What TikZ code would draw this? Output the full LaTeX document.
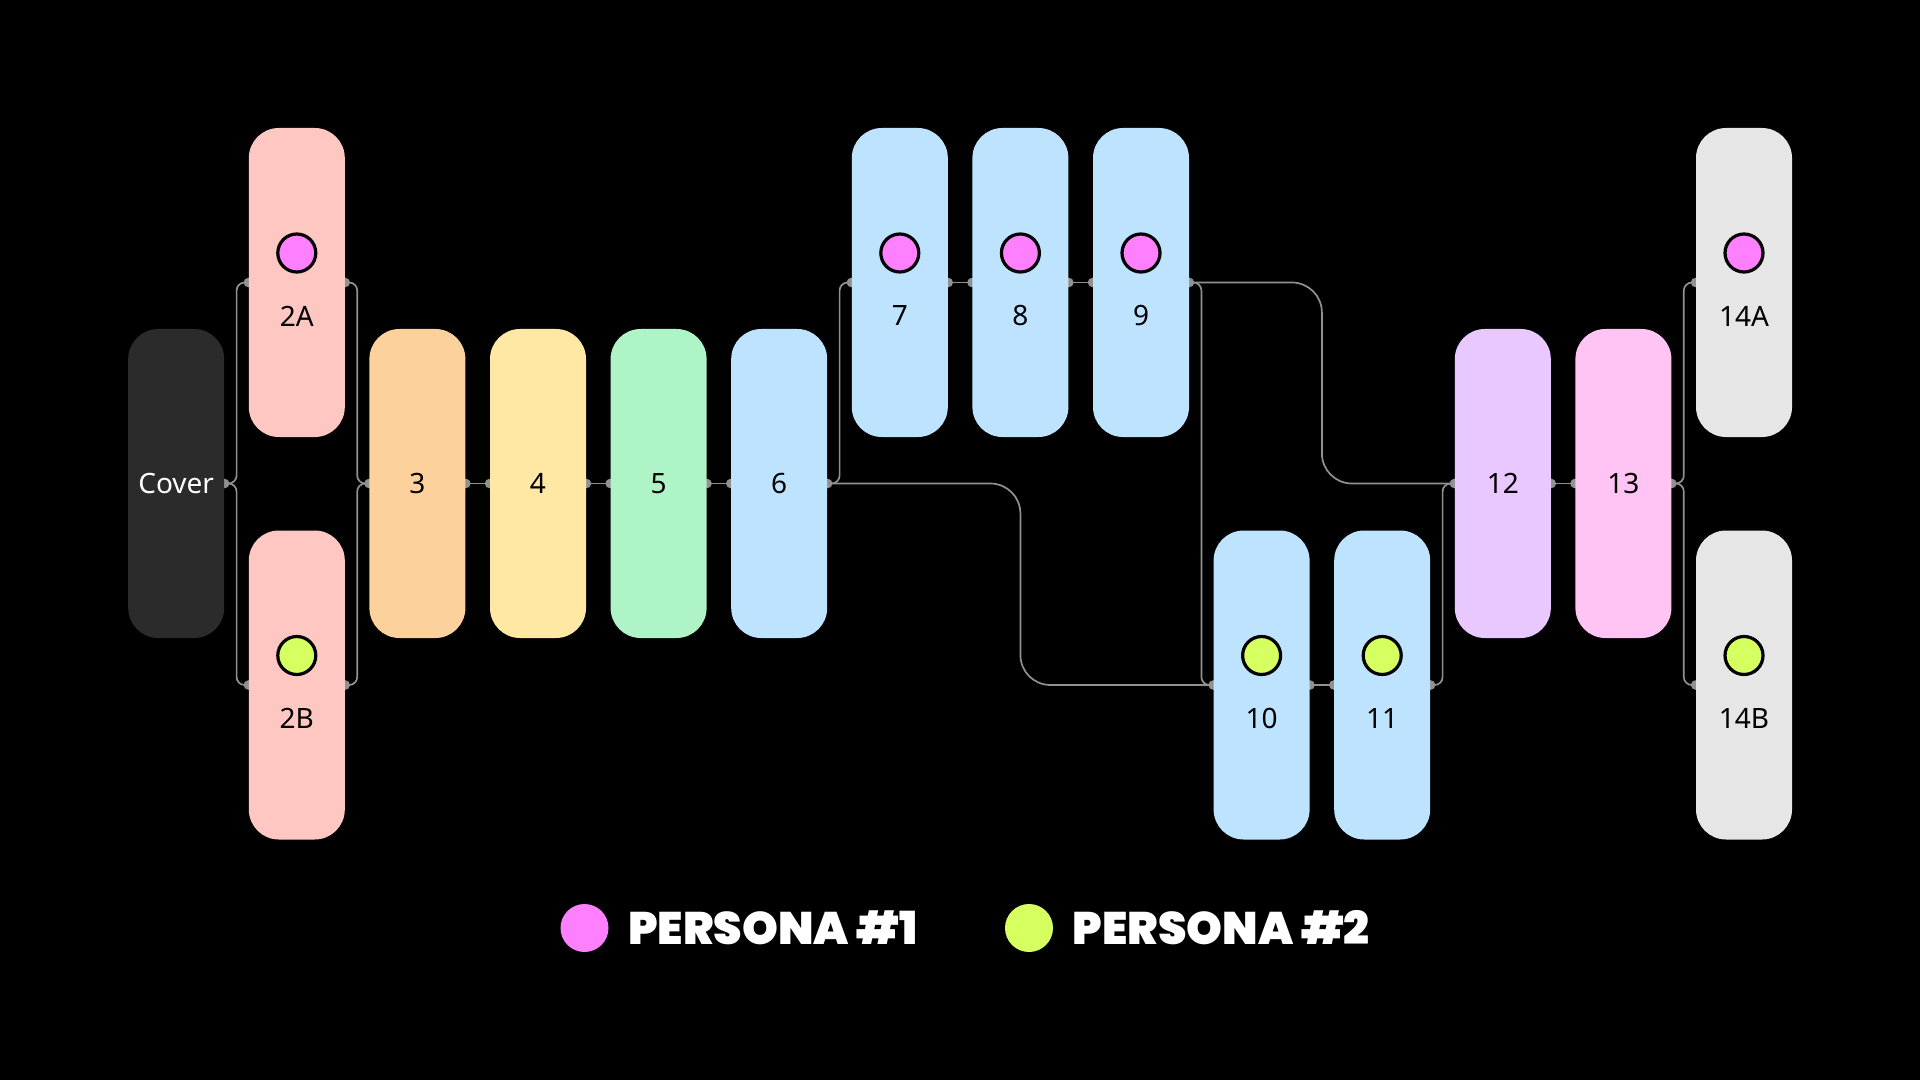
\documentclass[tikz,border=0pt]{standalone}
\usepackage{fontspec}
\setmainfont{Noto Sans}
\IfFontExistsTF{Poppins Black}
  {\newfontfamily\legendfont{Poppins Black}}
  {\IfFontExistsTF{Poppins ExtraBold}
    {\newfontfamily\legendfont{Poppins ExtraBold}}
    {\newfontfamily\legendbase{Poppins}\newcommand\legendfont{\legendbase\bfseries}}}
\usetikzlibrary{positioning, calc}
\definecolor{coverdark}{RGB}{43,43,43}
\definecolor{salmon}{RGB}{255,199,194}
\definecolor{peach}{RGB}{252,209,156}
\definecolor{butter}{RGB}{255,232,163}
\definecolor{mint}{RGB}{175,244,198}
\definecolor{sky}{RGB}{189,227,255}
\definecolor{lilac}{RGB}{232,200,255}
\definecolor{candy}{RGB}{255,196,243}
\definecolor{cloud}{RGB}{230,230,230}
\definecolor{personaone}{RGB}{255,128,255}
\definecolor{personatwo}{RGB}{214,255,96}
\definecolor{wiregray}{RGB}{145,145,145}
\pgfdeclarelayer{back}
\pgfdeclarelayer{wires}
\pgfsetlayers{back,wires,main}

\begin{document}
\begin{tikzpicture}[x=0.5pt, y=-0.5pt,
    page/.style={rounded corners=15pt, minimum width=48pt, minimum height=154.5pt, inner sep=0pt, font=\fontsize{14}{16}\selectfont},
    dot/.style={circle, draw=black, line width=1.6pt, minimum size=19pt, inner sep=0pt},
    tag/.style={font=\fontsize{14}{16}\selectfont, inner sep=0pt},
    wire/.style={draw=wiregray, line width=0.85pt, rounded corners=4pt},
    legdot/.style={circle, minimum size=24pt, inner sep=0pt}]
    \begin{pgfonlayer}{back}
        \fill[black] (0,0) rectangle (1920,1080);
    \end{pgfonlayer}
    \useasboundingbox (0,0) rectangle (1920,1080);

    % pages
    \node[page, fill=coverdark, text=white] (cover) at (176.2,483.5) {Cover};
    \node[page, fill=salmon] (b2a) at (296.8,282.5) {};
    \node[page, fill=salmon] (b2b) at (296.8,685) {};
    \node[page, fill=peach] (b3) at (417.4,483.5) {3};
    \node[page, fill=butter] (b4) at (538.0,483.5) {4};
    \node[page, fill=mint] (b5) at (658.6,483.5) {5};
    \node[page, fill=sky] (b6) at (779.2,483.5) {6};
    \node[page, fill=sky] (b7) at (899.8,282.5) {};
    \node[page, fill=sky] (b8) at (1020.4,282.5) {};
    \node[page, fill=sky] (b9) at (1141.0,282.5) {};
    \node[page, fill=sky] (b10) at (1261.6,685) {};
    \node[page, fill=sky] (b11) at (1382.2,685) {};
    \node[page, fill=lilac] (b12) at (1502.8,483.5) {12};
    \node[page, fill=candy] (b13) at (1623.4,483.5) {13};
    \node[page, fill=cloud] (b14a) at (1744.0,282.5) {};
    \node[page, fill=cloud] (b14b) at (1744.0,685) {};

    % persona markers and labels
    \foreach \b/\c/\t in {b2a/personaone/2A, b2b/personatwo/2B, b7/personaone/7, b8/personaone/8,
                          b9/personaone/9, b10/personatwo/10, b11/personatwo/11,
                          b14a/personaone/14A, b14b/personatwo/14B} {
        \node[dot, fill=\c] (\b-dot) at ([yshift=14.75pt]\b.center) {};
        \node[tag] (\b-tag) at ([yshift=-16.75pt]\b.center) {\t};
    }

    % connectors
    \coordinate (bend) at ($(b10.center)!0.5!(b11.center)$);
    \begin{pgfonlayer}{wires}
        \draw[wire] (cover.east) -- ++(6pt,0) |- (b2a.west);
        \draw[wire] (cover.east) -- ++(6pt,0) |- (b2b.west);
        \draw[wire] (b2a.east) -- ++(6pt,0) |- (b3.west);
        \draw[wire] (b2b.east) -- ++(6pt,0) |- (b3.west);
        \draw[wire] (b3.east) -- (b4.west);
        \draw[wire] (b4.east) -- (b5.west);
        \draw[wire] (b5.east) -- (b6.west);
        \draw[wire] (b6.east) -- ++(6pt,0) |- (b7.west);
        \draw[wire, rounded corners=15pt] (b6.east) -| (b8.center |- b10.west) -- (b10.west);
        \draw[wire] (b7.east) -- (b8.west);
        \draw[wire] (b8.east) -- (b9.west);
        \draw[wire, rounded corners=15pt] (b9.east) -| (bend |- b12.west) -- (b12.west);
        \draw[wire] (b9.east) -- ++(6pt,0) |- (b10.west);
        \draw[wire] (b10.east) -- (b11.west);
        \draw[wire] (b11.east) -- ++(6pt,0) |- (b12.west);
        \draw[wire] (b12.east) -- (b13.west);
        \draw[wire] (b13.east) -- ++(6pt,0) |- (b14a.west);
        \draw[wire] (b13.east) -- ++(6pt,0) |- (b14b.west);
        \foreach \p in {cover.east, b2a.west, b2a.east, b2b.west, b2b.east, b3.west, b3.east,
                        b4.west, b4.east, b5.west, b5.east, b6.west, b6.east, b7.west, b7.east,
                        b8.west, b8.east, b9.west, b9.east, b10.west, b10.east, b11.west, b11.east,
                        b12.west, b12.east, b13.west, b13.east, b14a.west, b14b.west}
            \fill[wiregray] (\p) circle (2.4pt);
    \end{pgfonlayer}

    % legend
    \node[legdot, fill=personaone] (leg1) at (584.5,928) {};
    \node[anchor=west, text=white, inner sep=0pt, font=\legendfont\fontsize{22.8}{25}\selectfont] (leg1-text) at (627.8,928) {PERSONA \#1};
    \node[legdot, fill=personatwo] (leg2) at (1029,928) {};
    \node[anchor=west, text=white, inner sep=0pt, font=\legendfont\fontsize{22.8}{25}\selectfont] (leg2-text) at (1072.5,928) {PERSONA \#2};
\end{tikzpicture}
\end{document}
